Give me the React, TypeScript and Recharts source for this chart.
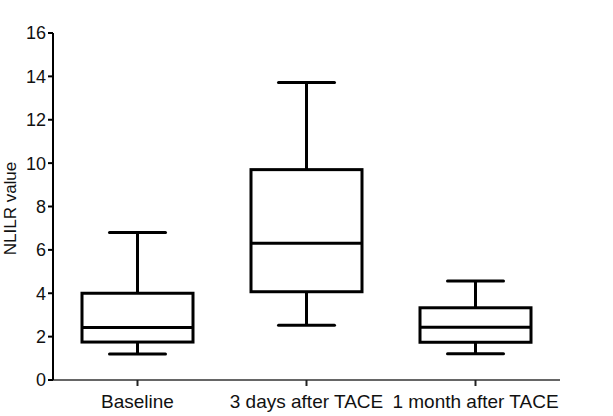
import { Bar, ComposedChart, XAxis, YAxis } from "recharts";

const groups = ["Baseline", "3 days after TACE", "1 month after TACE"];
const whiskerLow = [1.2, 2.52, 1.21];
const quartile1 = [1.75, 4.07, 1.74];
const medians = [2.42, 6.3, 2.43];
const quartile3 = [4.0, 9.7, 3.33];
const whiskerHigh = [6.8, 13.72, 4.57];
const yTicks = [0, 2, 4, 6, 8, 10, 12, 14, 16];

const data = groups.map((name, i) => ({
  name,
  low: whiskerLow[i],
  q1: quartile1[i],
  median: medians[i],
  q3: quartile3[i],
  high: whiskerHigh[i],
  span: [whiskerLow[i], whiskerHigh[i]],
}));

const font = "'Liberation Sans', Arial, Helvetica, sans-serif";
const capWidth = 56;

// the bar spans low..high, so its pixel box gives the y scale for the rest
function BoxShape(props: any) {
  const { x, y, width, height, payload } = props;
  const top = Math.min(y, y + height);
  const bottom = Math.max(y, y + height);
  const perUnit = (bottom - top) / (payload.high - payload.low);
  const toY = (v: number) => bottom - (v - payload.low) * perUnit;
  const cx = x + width / 2;
  const yHigh = toY(payload.high);
  const yLow = toY(payload.low);
  const yQ1 = toY(payload.q1);
  const yQ3 = toY(payload.q3);
  const yMed = toY(payload.median);
  return (
    <g stroke="#000" strokeWidth={3} fill="none">
      <line x1={cx} x2={cx} y1={yHigh} y2={yQ3} />
      <line x1={cx} x2={cx} y1={yQ1} y2={yLow} />
      <line x1={cx - capWidth / 2} x2={cx + capWidth / 2} y1={yHigh} y2={yHigh} strokeLinecap="round" />
      <line x1={cx - capWidth / 2} x2={cx + capWidth / 2} y1={yLow} y2={yLow} strokeLinecap="round" />
      <rect x={x} y={yQ3} width={width} height={yQ1 - yQ3} />
      <line x1={x} x2={x + width} y1={yMed} y2={yMed} />
    </g>
  );
}

function YLabel(props: any) {
  const { viewBox } = props;
  const cy = viewBox.y + viewBox.height / 2 + 2;
  const tx = 16;
  return (
    <text
      x={tx}
      y={cy}
      transform={`rotate(-90 ${tx} ${cy})`}
      textAnchor="middle"
      fontSize={17}
      fontFamily={font}
      fill="#111"
    >
      NLILR value
    </text>
  );
}

export default function App() {
  return (
    <div style={{ position: "absolute", left: 0, top: 0 }}>
      <ComposedChart
        width={613}
        height={416}
        data={data}
        margin={{ top: 33, right: 53, bottom: 0, left: 0 }}
      >
        <XAxis
          dataKey="name"
          height={36}
          stroke="#333"
          strokeWidth={1.5}
          tickSize={6}
          tickMargin={9}
          tick={{ fontSize: 19, fontFamily: font, fill: "#111" }}
          tickLine={{ stroke: "#222", strokeWidth: 2 }}
          interval={0}
        />
        <YAxis
          width={53}
          domain={[0, 16]}
          ticks={yTicks}
          type="number"
          stroke="#000"
          strokeWidth={2}
          tickSize={5}
          tickMargin={2}
          tick={{ fontSize: 18, fontFamily: font, fill: "#111" }}
          tickLine={{ stroke: "#000", strokeWidth: 2 }}
          label={<YLabel />}
        />
        <Bar dataKey="span" barSize={111} shape={BoxShape} isAnimationActive={false} />
      </ComposedChart>
    </div>
  );
}
